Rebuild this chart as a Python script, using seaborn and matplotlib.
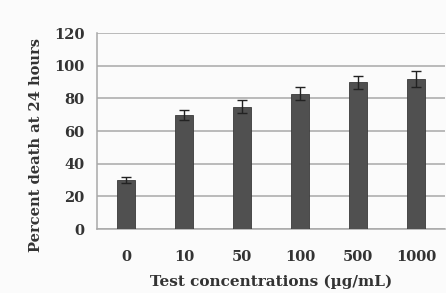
import numpy as np
import pandas as pd
import matplotlib
matplotlib.use('Agg')
import matplotlib.pyplot as plt
import seaborn as sns

concentrations = ['0', '10', '50', '100', '500', '1000']
percent_death = [30, 70, 75, 83, 90, 92]
errors = [2, 3, 4, 4, 4, 5]

df = pd.DataFrame({'conc': concentrations, 'death': percent_death, 'err': errors})

sns.set_style('white')
plt.rcParams['font.family'] = ['DejaVu Serif']

fig = plt.figure(figsize=(4.46, 2.93), dpi=100)
fig.patch.set_facecolor('#fbfbfb')
ax = fig.add_axes([0.2175, 0.218, 0.78, 0.669])
ax.set_facecolor('#fbfbfb')

sns.barplot(data=df, x='conc', y='death', color='#505050', width=0.3,
            saturation=1, edgecolor='#3a3a3a', linewidth=0.6, ax=ax, zorder=3)
ax.errorbar(np.arange(len(concentrations)), df['death'], yerr=df['err'],
            fmt='none', ecolor='#222222', elinewidth=1, capsize=3.5, capthick=1, zorder=4)

ax.set_ylim(0, 120)
ax.set_yticks(range(0, 121, 20))
ax.set_xlim(-0.5, len(concentrations) - 0.5)
ax.yaxis.grid(True, color='#a8a8a8', linewidth=1.1, zorder=0)
ax.set_axisbelow(True)

for s in ['top', 'right']:
    ax.spines[s].set_visible(False)
ax.spines['left'].set_color('#a8a8a8')
ax.spines['bottom'].set_color('#a8a8a8')
ax.spines['left'].set_linewidth(1.1)
ax.spines['bottom'].set_linewidth(1.1)

# Excel-style ticks between categories
ax.set_xticks(np.arange(len(concentrations)))
ax.set_xticklabels(concentrations, fontsize=10.5, fontweight='semibold', color='#333333')
ax.set_xticks(np.arange(-0.5, len(concentrations), 1), minor=True)
ax.tick_params(axis='x', which='major', length=0, pad=15)
ax.tick_params(axis='x', which='minor', length=7, color='#a8a8a8', width=1)
ax.tick_params(axis='y', which='major', length=5, color='#a8a8a8', width=1, pad=4,
               labelsize=10.5, labelcolor='#333333')
for lab in ax.get_yticklabels():
    lab.set_fontweight('semibold')

ax.set_xlabel('Test concentrations (\u00b5g/mL)', fontsize=11, fontweight='semibold',
              color='#333333', labelpad=8)
ax.set_ylabel('Percent death at 24 hours', fontsize=10.5, fontweight='semibold',
              color='#333333', va='center')
ax.yaxis.set_label_coords(-0.175, 0.43)

fig.savefig('out.png', dpi=100, facecolor=fig.get_facecolor())
